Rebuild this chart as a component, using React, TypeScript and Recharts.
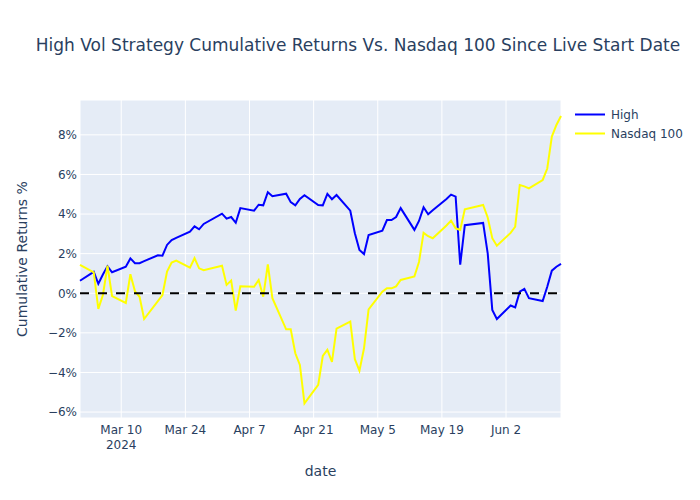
import {
  LineChart,
  Line,
  XAxis,
  YAxis,
  CartesianGrid,
  ReferenceLine,
} from "recharts";

const FONT = '"DejaVu Sans", Verdana, sans-serif';
const INK = "#2a3f5f";

// trading days since live start
const dates = [
  "2024-03-01", "2024-03-04", "2024-03-05", "2024-03-06", "2024-03-07", "2024-03-08",
  "2024-03-11", "2024-03-12", "2024-03-13", "2024-03-14", "2024-03-15",
  "2024-03-18", "2024-03-19", "2024-03-20", "2024-03-21", "2024-03-22",
  "2024-03-25", "2024-03-26", "2024-03-27", "2024-03-28",
  "2024-04-01", "2024-04-02", "2024-04-03", "2024-04-04", "2024-04-05",
  "2024-04-08", "2024-04-09", "2024-04-10", "2024-04-11", "2024-04-12",
  "2024-04-15", "2024-04-16", "2024-04-17", "2024-04-18", "2024-04-19",
  "2024-04-22", "2024-04-23", "2024-04-24", "2024-04-25", "2024-04-26",
  "2024-04-29", "2024-04-30", "2024-05-01", "2024-05-02", "2024-05-03",
  "2024-05-06", "2024-05-07", "2024-05-08", "2024-05-09", "2024-05-10",
  "2024-05-13", "2024-05-14", "2024-05-15", "2024-05-16", "2024-05-17",
  "2024-05-20", "2024-05-21", "2024-05-22", "2024-05-23", "2024-05-24",
  "2024-05-28", "2024-05-29", "2024-05-30", "2024-05-31",
  "2024-06-03", "2024-06-04", "2024-06-05", "2024-06-06", "2024-06-07",
  "2024-06-10", "2024-06-11", "2024-06-12", "2024-06-13", "2024-06-14",
];

const highReturns = [
  0.63, 1.08, 0.48, 0.95, 1.36, 1.06,
  1.34, 1.76, 1.52, 1.52, 1.62,
  1.92, 1.9, 2.44, 2.69, 2.8,
  3.11, 3.38, 3.23, 3.5,
  4.02, 3.77, 3.85, 3.56, 4.3,
  4.17, 4.47, 4.44, 5.1, 4.9,
  5.03, 4.6, 4.44, 4.76, 4.95,
  4.46, 4.44, 5.02, 4.75, 4.96,
  4.17, 3.03, 2.19, 1.98, 2.94,
  3.16, 3.7, 3.7, 3.85, 4.3,
  3.2, 3.65, 4.34, 3.99, 4.19,
  4.76, 4.98, 4.88, 1.44, 3.44,
  3.55, 2.02, -0.84, -1.3,
  -0.62, -0.71, 0.08, 0.22, -0.25,
  -0.39, 0.33, 1.14, 1.34, 1.48,
];

const nasdaqReturns = [
  1.43, 1.06, -0.79, -0.09, 1.39, -0.14,
  -0.49, 0.96, 0.1, -0.18, -1.3,
  -0.4, -0.09, 1.09, 1.55, 1.65,
  1.29, 1.77, 1.26, 1.16,
  1.39, 0.42, 0.64, -0.88, 0.35,
  0.33, 0.67, -0.17, 1.46, -0.25,
  -1.82, -1.82, -3.03, -3.62, -5.56,
  -4.63, -3.17, -2.86, -3.47, -1.79,
  -1.43, -3.33, -3.91, -2.78, -0.81,
  0.08, 0.25, 0.25, 0.35, 0.67,
  0.85, 1.58, 3.05, 2.88, 2.78,
  3.42, 3.67, 3.28, 3.2, 4.24,
  4.46, 3.83, 2.78, 2.4,
  3.05, 3.36, 5.47, 5.4, 5.3,
  5.72, 6.3, 7.91, 8.5, 8.95,
];

const xTickDates = [
  "2024-03-10", "2024-03-24", "2024-04-07", "2024-04-21",
  "2024-05-05", "2024-05-19", "2024-06-02",
];
const xTickLabels = [
  ["Mar 10", "2024"], ["Mar 24"], ["Apr 7"], ["Apr 21"],
  ["May 5"], ["May 19"], ["Jun 2"],
];
const yTicks = [-6, -4, -2, 0, 2, 4, 6, 8];

const toTime = (s: string) => Date.parse(s + "T00:00:00Z");

const chartData = dates.map((d, i) => ({
  t: toTime(d),
  high: highReturns[i],
  nasdaq: nasdaqReturns[i],
}));
const xTicks = xTickDates.map(toTime);

function pct(v: number) {
  return `${v < 0 ? "\u2212" : ""}${Math.abs(v)}%`;
}

function DateTick({ x, y, payload }: { x?: number; y?: number; payload?: { value: number } }) {
  const idx = xTicks.indexOf(payload?.value ?? -1);
  const lines = idx >= 0 ? xTickLabels[idx] : [];
  return (
    <g>
      {lines.map((line, i) => (
        <text
          key={line}
          x={x}
          y={(y ?? 0) + 12 + i * 15}
          textAnchor="middle"
          dominantBaseline="central"
          fontFamily={FONT}
          fontSize={12}
          fill={INK}
        >
          {line}
        </text>
      ))}
    </g>
  );
}

const legendItems = [
  { name: "High", color: "#0000ff" },
  { name: "Nasdaq 100", color: "#ffff00" },
];

export default function App() {
  return (
    <div
      style={{
        position: "absolute",
        left: 0,
        top: 0,
        width: 700,
        height: 500,
        background: "#fff",
        fontFamily: FONT,
        color: INK,
      }}
    >
      <LineChart
        width={700}
        height={500}
        data={chartData}
        margin={{ top: 100, right: 139, bottom: 52, left: 0 }}
      >
        <CartesianGrid fill="#E5ECF6" stroke="#fff" strokeWidth={1} />
        <XAxis
          dataKey="t"
          type="number"
          domain={[chartData[0].t, chartData[chartData.length - 1].t]}
          ticks={xTicks}
          tick={<DateTick />}
          tickLine={false}
          axisLine={false}
          tickSize={0}
          tickMargin={0}
          height={30}
          interval={0}
        />
        <YAxis
          width={80}
          domain={[-6.3, 9.76]}
          ticks={yTicks}
          tickFormatter={pct}
          tick={{ fontFamily: FONT, fontSize: 12, fill: INK }}
          tickLine={false}
          axisLine={false}
          tickSize={0}
          tickMargin={3}
          interval={0}
        />
        <Line
          type="linear"
          dataKey="high"
          name="High"
          stroke="#0000ff"
          strokeWidth={2}
          dot={false}
          isAnimationActive={false}
        />
        <Line
          type="linear"
          dataKey="nasdaq"
          name="Nasdaq 100"
          stroke="#ffff00"
          strokeWidth={2}
          dot={false}
          isAnimationActive={false}
        />
        <ReferenceLine y={0} stroke="#000" strokeWidth={2} strokeDasharray="9 9" />
      </LineChart>

      {/* title */}
      <div
        style={{
          position: "absolute",
          left: 0,
          top: 35,
          width: 716,
          textAlign: "center",
          fontSize: 17,
          lineHeight: "20px",
          whiteSpace: "nowrap",
        }}
      >
        High Vol Strategy Cumulative Returns Vs. Nasdaq 100 Since Live Start Date
      </div>

      {/* axis titles */}
      <div
        style={{
          position: "absolute",
          left: 22 - 159,
          top: 259 - 10,
          width: 318,
          height: 20,
          lineHeight: "20px",
          fontSize: 14,
          textAlign: "center",
          transform: "rotate(-90deg)",
          whiteSpace: "nowrap",
        }}
      >
        Cumulative Returns %
      </div>
      <div
        style={{
          position: "absolute",
          left: 80,
          top: 461,
          width: 481,
          height: 20,
          lineHeight: "20px",
          fontSize: 14,
          textAlign: "center",
        }}
      >
        date
      </div>

      {/* legend */}
      <div style={{ position: "absolute", left: 575, top: 105 }}>
        {legendItems.map((item) => (
          <div
            key={item.name}
            style={{ display: "flex", alignItems: "center", height: 19, fontSize: 12 }}
          >
            <svg width={36} height={19}>
              <line x1={0} y1={9.5} x2={30} y2={9.5} stroke={item.color} strokeWidth={2} />
            </svg>
            <span>{item.name}</span>
          </div>
        ))}
      </div>
    </div>
  );
}
